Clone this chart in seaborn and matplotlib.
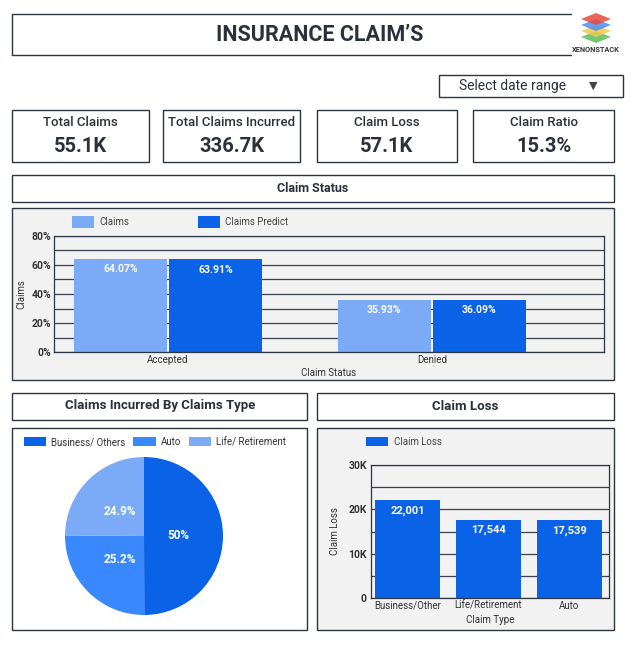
import matplotlib
matplotlib.use("Agg")
import matplotlib.pyplot as plt
from matplotlib.patches import Rectangle, Polygon
import seaborn as sns
import pandas as pd

# ---------------- data ----------------
kpi_labels = ["Total Claims", "Total Claims Incurred", "Claim Loss", "Claim Ratio"]
kpi_values = ["55.1K", "336.7K", "57.1K", "15.3%"]

status_categories = ["Accepted", "Denied"]
status_claims = [64.07, 35.93]
status_predict = [63.91, 36.09]
status_series = ["Claims", "Claims Predict"]

pie_types = ["Business/ Others", "Auto", "Life/ Retirement"]
pie_values = [50, 25.2, 24.9]

loss_types = ["Business/Other", "Life/Retirement", "Auto"]
loss_values = [22001, 17544, 17539]

# ---------------- style ----------------
sns.set_theme(style="white")
plt.rcParams["font.family"] = ["Roboto", "DejaVu Sans"]

DARK = "#0a63e6"
MID = "#3a88fd"
LIGHT = "#7babf6"
BORDER = "#2d3442"
PANEL = "#f2f2f2"
TXT = "#2b303b"

W, H = 640, 648
fig = plt.figure(figsize=(W / 100, H / 100), dpi=100)
fig.patch.set_facecolor("white")


def fx(x):
    return x / W


def fy(y):
    return 1 - y / H


def box(x0, y0, x1, y1, fc="white", ec=BORDER, lw=1.0, z=-1):
    r = Rectangle((fx(x0), fy(y1)), (x1 - x0) / W, (y1 - y0) / H,
                  transform=fig.transFigure, facecolor=fc, edgecolor=ec,
                  linewidth=lw, zorder=z)
    fig.add_artist(r)


def axrect(x0, y0, x1, y1):
    return [fx(x0), fy(y1), (x1 - x0) / W, (y1 - y0) / H]


# ---------------- title ----------------
for (xa, ya, xb, yb) in [(12, 14, 571, 14), (12, 55, 571, 55), (12, 14, 12, 55)]:
    fig.add_artist(plt.Line2D([fx(xa), fx(xb)], [fy(ya), fy(yb)],
                              transform=fig.transFigure, color=BORDER, lw=1))
fig.text(fx(320), fy(35), "INSURANCE CLAIM’S", ha="center", va="center",
         fontsize=15.5, fontweight="bold", color=TXT)

# logo
layer_cols = ["#5cbf5c", "#f2c94c", "#4f8ef0", "#e8493b"]
for i, c in enumerate(layer_cols):
    cy = 37 - i * 6
    pts = [(fx(581), fy(cy)), (fx(596), fy(cy - 6)), (fx(611), fy(cy)), (fx(596), fy(cy + 6))]
    fig.add_artist(Polygon(pts, closed=True, transform=fig.transFigure,
                           facecolor=c, edgecolor="none", alpha=0.85))
fig.text(fx(596), fy(50), "XENONSTACK", ha="center", va="center",
         fontsize=5.3, fontweight="bold", color="#333333")

# date selector
box(439, 75, 623, 97)
fig.text(fx(459), fy(86), "Select date range", ha="left", va="center", fontsize=10, color=TXT)
fig.text(fx(593), fy(86), "▼", ha="center", va="center", fontsize=8, color="#444444",
         family=["DejaVu Sans"])

# KPI cards
kpi_x = [(12, 149), (163, 300), (317, 457), (473, 614)]
for (x0, x1), lab, val in zip(kpi_x, kpi_labels, kpi_values):
    box(x0, 110, x1, 162)
    cx = (x0 + x1) / 2
    fig.text(fx(cx), fy(122), lab, ha="center", va="center", fontsize=9.5,
             fontweight="medium", color=TXT)
    fig.text(fx(cx), fy(146), val, ha="center", va="center", fontsize=14.5,
             fontweight="bold", color=TXT)

# ---------------- Claim Status ----------------
box(12, 175, 614, 202)
fig.text(fx(313), fy(188), "Claim Status", ha="center", va="center", fontsize=9,
         fontweight="bold", color=TXT)
box(12, 208, 614, 380, fc=PANEL)

df_status = pd.DataFrame({
    "Claim Status": status_categories * 2,
    "value": status_claims + status_predict,
    "series": [status_series[0]] * 2 + [status_series[1]] * 2,
})
ax1 = fig.add_axes(axrect(54, 236, 604, 352))
ax1.set_facecolor(PANEL)
sns.barplot(data=df_status, x="Claim Status", y="value", hue="series",
            palette=[LIGHT, DARK], width=0.72, gap=0.02, ax=ax1,
            edgecolor="none", linewidth=0, saturation=1)
ax1.set_xlim(-0.432, 1.652)
ax1.set_ylim(0, 80)
ax1.set_yticks([0, 20, 40, 60, 80])
ax1.set_yticks(range(10, 80, 20), minor=True)
ax1.set_yticklabels([f"{v}%" for v in [0, 20, 40, 60, 80]], fontsize=7.5,
                    fontweight="bold", color="#333333")
ax1.grid(axis="y", which="both", color="#3b4150", lw=0.9)
ax1.set_axisbelow(True)
ax1.tick_params(axis="both", which="both", length=0, pad=2)
ax1.tick_params(axis="x", labelsize=7, labelcolor="#333333")
ax1.set_xlabel("Claim Status", fontsize=7, color="#333333", labelpad=2)
ax1.set_ylabel("Claims", fontsize=7, color="#333333", labelpad=4)
for s in ax1.spines.values():
    s.set_color(BORDER)
    s.set_linewidth(0.9)
for cont in ax1.containers:
    ax1.bar_label(cont, fmt="{:.2f}%", label_type="edge", padding=-11,
                  color="white", fontsize=7.5, fontweight="bold")
h, l = ax1.get_legend_handles_labels()
ax1.legend(h, l, loc="center left", bbox_to_anchor=(fx(72), fy(222)),
           bbox_transform=fig.transFigure, ncol=2, frameon=False,
           fontsize=7, handlelength=2.3, handleheight=1.4, handletextpad=0.55,
           columnspacing=7.0, labelcolor="#444444", borderaxespad=0, borderpad=0)

# ---------------- Pie ----------------
box(12, 393, 307, 420)
fig.text(fx(160), fy(406), "Claims Incurred By Claims Type", ha="center", va="center",
         fontsize=9.5, fontweight="bold", color=TXT)
box(12, 428, 307, 630)
ax2 = fig.add_axes(axrect(65, 457, 223, 615))
total = sum(pie_values)
wedges, _, autot = ax2.pie(pie_values, colors=[DARK, MID, LIGHT], startangle=90,
                           counterclock=False, autopct=lambda p: f"{p * total / 100:g}%",
                           pctdistance=0.43, wedgeprops=dict(linewidth=0),
                           textprops=dict(color="white", fontsize=8.5, fontweight="bold"))
ax2.set_aspect("equal")
ax2.set_xlim(-1, 1)
ax2.set_ylim(-1, 1)
ax2.legend(wedges, pie_types, loc="center left", bbox_to_anchor=(fx(24), fy(442)),
           bbox_transform=fig.transFigure, ncol=3, frameon=False, fontsize=7,
           handlelength=2.3, handleheight=1.1, handletextpad=0.5, columnspacing=0.8,
           labelcolor="#333333", borderaxespad=0, borderpad=0)

# ---------------- Claim Loss ----------------
box(317, 393, 614, 420)
fig.text(fx(465), fy(406), "Claim Loss", ha="center", va="center",
         fontsize=9.5, fontweight="bold", color=TXT)
box(317, 428, 614, 630, fc=PANEL)
df_loss = pd.DataFrame({"Claim Type": loss_types, "Claim Loss": loss_values})
ax3 = fig.add_axes(axrect(371, 465, 609, 598))
ax3.set_facecolor(PANEL)
sns.barplot(data=df_loss, x="Claim Type", y="Claim Loss", color=DARK, width=0.8,
            ax=ax3, edgecolor="none", linewidth=0, saturation=1, label="Claim Loss")
ax3.set_xlim(-0.45, 2.49)
ax3.set_ylim(0, 30000)
ax3.set_yticks([0, 10000, 20000, 30000])
ax3.set_yticks([5000, 15000, 25000], minor=True)
ax3.set_yticklabels(["0", "10K", "20K", "30K"], fontsize=7.5, fontweight="bold",
                    color="#333333")
ax3.grid(axis="y", which="both", color="#3b4150", lw=0.9)
ax3.set_axisbelow(True)
ax3.tick_params(axis="both", which="both", length=0, pad=3)
ax3.tick_params(axis="x", labelsize=7, labelcolor="#333333", pad=2)
ax3.set_xlabel("Claim Type", fontsize=7, color="#333333", labelpad=3)
ax3.set_ylabel("Claim Loss", fontsize=7, color="#333333", labelpad=6)
for s in ax3.spines.values():
    s.set_color(BORDER)
    s.set_linewidth(0.9)
for cont in ax3.containers:
    ax3.bar_label(cont, fmt="{:,.0f}", label_type="edge", padding=-11,
                  color="white", fontsize=8, fontweight="bold")
h3, l3 = ax3.get_legend_handles_labels()
ax3.legend(h3, l3, loc="center left", bbox_to_anchor=(fx(366), fy(442)),
           bbox_transform=fig.transFigure, frameon=False, fontsize=7,
           handlelength=2.3, handleheight=1.1, handletextpad=0.6,
           labelcolor="#444444", borderaxespad=0, borderpad=0)

fig.savefig("out.png", dpi=100, facecolor="white")
